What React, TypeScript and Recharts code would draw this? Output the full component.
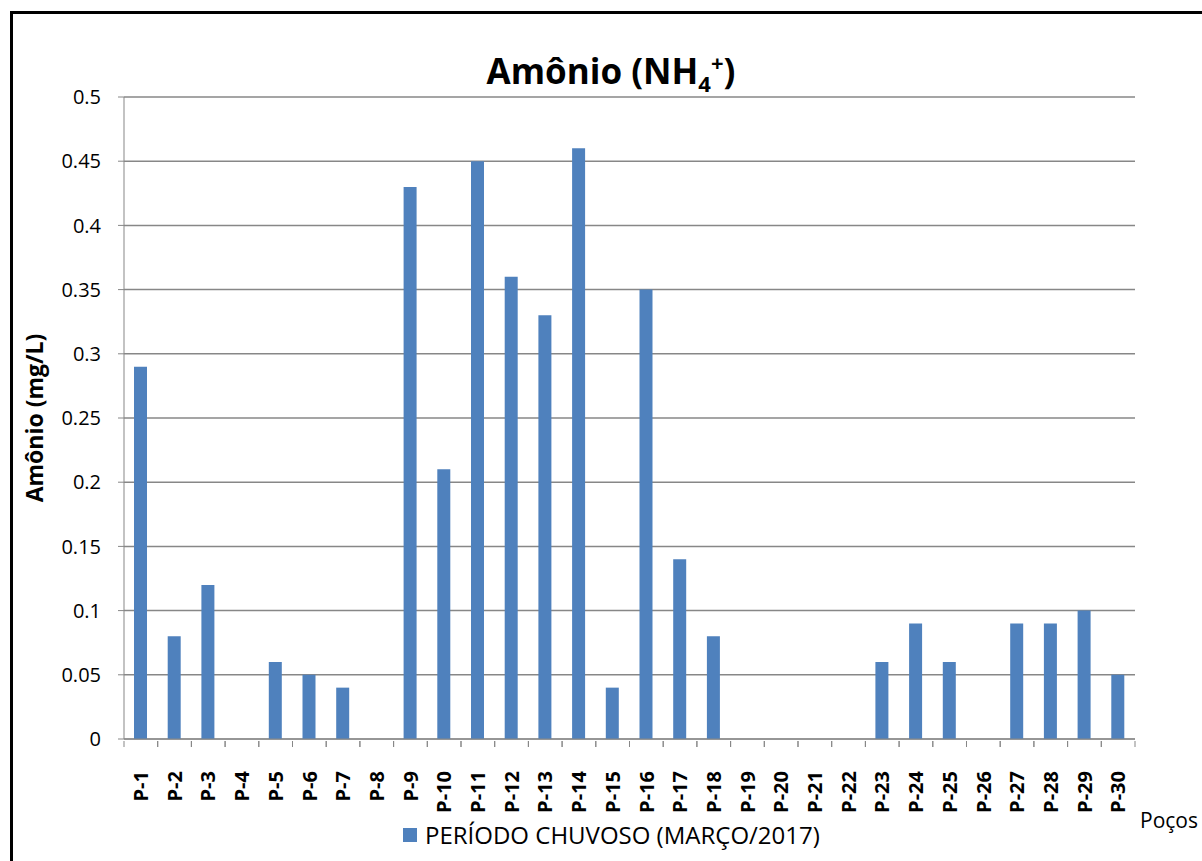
import React from 'react';
import { BarChart, Bar, XAxis, YAxis, CartesianGrid, Legend } from 'recharts';

const wells = [
    'P-1', 'P-2', 'P-3', 'P-4', 'P-5', 'P-6', 'P-7', 'P-8', 'P-9', 'P-10',
    'P-11', 'P-12', 'P-13', 'P-14', 'P-15', 'P-16', 'P-17', 'P-18', 'P-19', 'P-20',
    'P-21', 'P-22', 'P-23', 'P-24', 'P-25', 'P-26', 'P-27', 'P-28', 'P-29', 'P-30',
];

const chuvoso = [
    0.29, 0.08, 0.12, 0, 0.06, 0.05, 0.04, 0, 0.43, 0.21,
    0.45, 0.36, 0.33, 0.46, 0.04, 0.35, 0.14, 0.08, 0, 0,
    0, 0, 0.06, 0.09, 0.06, 0, 0.09, 0.09, 0.1, 0.05,
];

const yTicks = [0, 0.05, 0.1, 0.15, 0.2, 0.25, 0.3, 0.35, 0.4, 0.45, 0.5];

const seriesName = 'PERÍODO CHUVOSO (MARÇO/2017)';

const data = wells.map((name, i) => ({ name, value: chuvoso[i] }));

const FONT = '"Open Sans", sans-serif';
const BAR_COLOR = '#4f81bd';
const AXIS_COLOR = '#878787';

const WellTick = (props: any) => {
    const { x, y, payload, bw } = props;
    return (
        <g transform={`translate(${x},${y})`}>
            <line x1={-bw / 2} y1={-6} x2={-bw / 2} y2={0} stroke={AXIS_COLOR} />
            <line x1={bw / 2} y1={-6} x2={bw / 2} y2={0} stroke={AXIS_COLOR} />
            <text
                transform="rotate(-90)"
                x={-24}
                y={0}
                dy="0.36em"
                textAnchor="end"
                fontFamily={FONT}
                fontWeight={700}
                fontSize={20}
                fill="#000"
            >
                {payload.value}
            </text>
        </g>
    );
};

const LegendBox = () => (
    <div style={{ display: 'flex', alignItems: 'center', fontFamily: FONT, fontSize: 24, color: '#000' }}>
        <span style={{ display: 'inline-block', width: 14, height: 14, background: BAR_COLOR, marginRight: 8 }} />
        <span>{seriesName}</span>
    </div>
);

const App: React.FC = () => {
    const width = 1202;
    const height = 861;
    const margin = { top: 97, right: 67, left: 64, bottom: 42 };
    const bw = (width - 124 - margin.right) / wells.length;

    return (
        <div style={{ position: 'absolute', left: 0, top: 0, width, height, overflow: 'hidden', background: '#fff' }}>
            <div
                style={{
                    position: 'absolute', left: 10, top: 11, width: 1300, height: 900,
                    borderLeft: '3px solid #000', borderTop: '3px solid #000',
                }}
            />
            <div
                style={{
                    position: 'absolute', left: 0, top: 42, width: 1222, textAlign: 'center',
                    fontFamily: FONT, fontWeight: 700, fontSize: 35, color: '#000', lineHeight: '40px',
                }}
            >
                Amônio (NH<sub style={{ fontSize: 22 }}>4</sub><sup style={{ fontSize: 22 }}>+</sup>)
            </div>
            <div style={{ position: 'absolute', left: 0, top: 0 }}>
                <BarChart width={width} height={height} data={data} margin={margin} barSize={13}>
                    <CartesianGrid vertical={false} stroke={AXIS_COLOR} strokeWidth={1.5} />
                    <XAxis
                        dataKey="name"
                        interval={0}
                        height={80}
                        axisLine={{ stroke: AXIS_COLOR }}
                        tickLine={false}
                        tick={<WellTick bw={bw} />}
                        label={{
                            content: ({ viewBox }: any) => (
                                <text
                                    x={viewBox.x + viewBox.width + 5}
                                    y={viewBox.y + 89}
                                    fontFamily={FONT}
                                    fontSize={21}
                                    fill="#000"
                                >
                                    Poços
                                </text>
                            ),
                        }}
                    />
                    <YAxis
                        width={60}
                        domain={[0, 0.5]}
                        ticks={yTicks}
                        interval={0}
                        axisLine={{ stroke: AXIS_COLOR }}
                        tickLine={{ stroke: AXIS_COLOR }}
                        tickSize={6}
                        tickMargin={17}
                        tick={{ fontFamily: FONT, fontSize: 20, fill: '#000' }}
                        label={{
                            content: ({ viewBox }: any) => {
                                const cx = viewBox.x - 21;
                                const cy = viewBox.y + viewBox.height / 2;
                                return (
                                    <text
                                        x={cx}
                                        y={cy}
                                        transform={`rotate(-90, ${cx}, ${cy})`}
                                        textAnchor="middle"
                                        fontFamily={FONT}
                                        fontWeight={700}
                                        fontSize={23}
                                        fill="#000"
                                    >
                                        Amônio (mg/L)
                                    </text>
                                );
                            },
                        }}
                    />
                    <Legend
                        layout="horizontal"
                        verticalAlign="middle"
                        align="center"
                        wrapperStyle={{ top: 818, left: 403, width: 'auto' }}
                        content={<LegendBox />}
                    />
                    <Bar dataKey="value" name={seriesName} fill={BAR_COLOR} isAnimationActive={false} />
                </BarChart>
            </div>
        </div>
    );
};

export default App;
